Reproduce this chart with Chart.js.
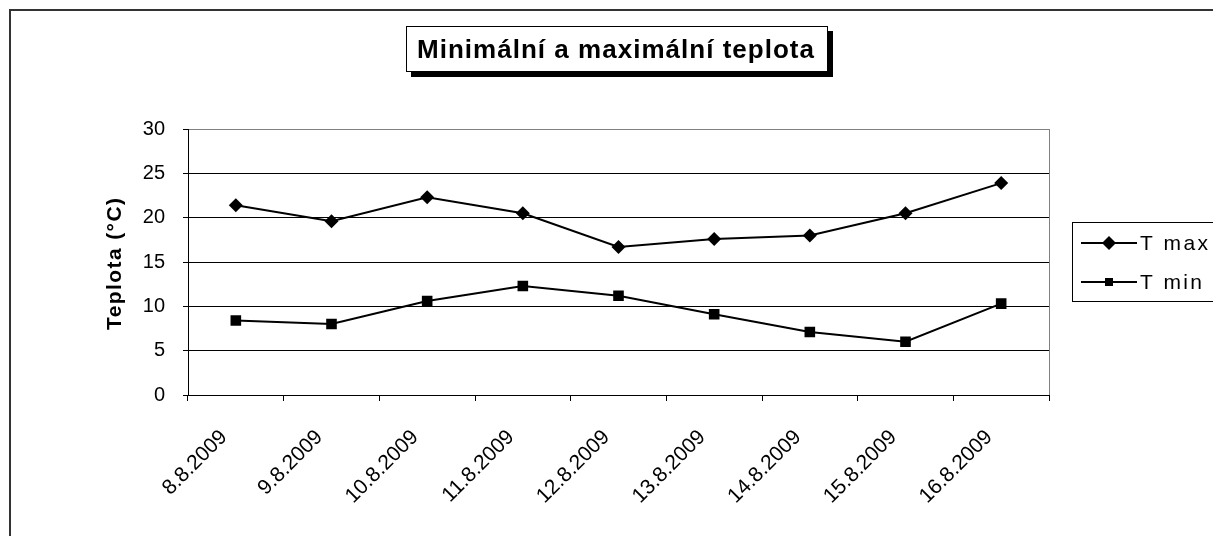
<!DOCTYPE html>
<html>
<head>
<meta charset="utf-8">
<script src="https://cdn.jsdelivr.net/npm/chart.js@4.4.1/dist/chart.umd.min.js"></script>
<style>
  body { margin: 0; background: #fff; }
  canvas { display: block; }
</style>
</head>
<body>
<canvas id="my-chart" width="1213" height="536"></canvas>
<script>
'use strict';

// ************** Data ***************

let categories = ['8.8.2009', '9.8.2009', '10.8.2009', '11.8.2009', '12.8.2009',
  '13.8.2009', '14.8.2009', '15.8.2009', '16.8.2009'];
let tMax = [21.4, 19.6, 22.3, 20.5, 16.7, 17.6, 18.0, 20.5, 23.9];
let tMin = [8.4, 8.0, 10.6, 12.3, 11.2, 9.1, 7.1, 6.0, 10.3];
let yTicks = [0, 5, 10, 15, 20, 25, 30];

let chartTitle = 'Minimální a maximální teplota';
let yTitle = 'Teplota (°C)';
let seriesNames = ['T max', 'T min'];

const FONT = '"Liberation Sans", Arial, sans-serif';

// ************** Helpers ***************

function spacedText(ctx, text, x, y, width) {
  // Excel stretches its text a bit, spread letters to a target width
  ctx.letterSpacing = '0px';
  let w0 = ctx.measureText(text).width;
  let sp = Math.max(0, (width - w0) / (text.length - 1));
  ctx.letterSpacing = sp + 'px';
  ctx.textAlign = 'left';
  ctx.fillText(text, x, y);
  ctx.letterSpacing = '0px';
}

let decorPlugin = {
  id: 'decor',
  afterDraw(chart) {
    let ctx = chart.ctx;
    let area = chart.chartArea;
    ctx.save();

    // outer chart border
    ctx.strokeStyle = '#333';
    ctx.lineWidth = 2;
    ctx.strokeRect(10, 10, 1300, 700);

    // plot area right border
    ctx.strokeStyle = '#808080';
    ctx.lineWidth = 1;
    ctx.beginPath();
    ctx.moveTo(Math.round(area.right) + 0.5, area.top);
    ctx.lineTo(Math.round(area.right) + 0.5, area.bottom);
    ctx.stroke();

    // title box with shadow
    ctx.fillStyle = '#000';
    ctx.fillRect(411, 31, 422, 46);
    ctx.fillStyle = '#fff';
    ctx.fillRect(406, 26, 422, 46);
    ctx.strokeStyle = '#000';
    ctx.strokeRect(406.5, 26.5, 421, 45);
    ctx.fillStyle = '#000';
    ctx.font = 'bold 26px ' + FONT;
    ctx.textBaseline = 'alphabetic';
    spacedText(ctx, chartTitle, 417, 58, 397);

    // y axis title
    ctx.save();
    ctx.translate(121, 264);
    ctx.rotate(-Math.PI / 2);
    ctx.font = 'bold 21px ' + FONT;
    ctx.textBaseline = 'alphabetic';
    spacedText(ctx, yTitle, -66, 0, 132);
    ctx.restore();

    // legend
    ctx.fillStyle = '#fff';
    ctx.fillRect(1072, 222, 200, 80);
    ctx.strokeStyle = '#000';
    ctx.lineWidth = 1;
    ctx.strokeRect(1072.5, 222.5, 200, 79);
    let rows = [243, 282];
    for (let i = 0; i < 2; i++) {
      let y = rows[i];
      ctx.strokeStyle = '#000';
      ctx.lineWidth = 2;
      ctx.beginPath();
      ctx.moveTo(1081, y);
      ctx.lineTo(1137, y);
      ctx.stroke();
      ctx.fillStyle = '#000';
      if (i === 0) {
        ctx.beginPath();
        ctx.moveTo(1109, y - 7);
        ctx.lineTo(1116, y);
        ctx.lineTo(1109, y + 7);
        ctx.lineTo(1102, y);
        ctx.closePath();
        ctx.fill();
      } else {
        ctx.fillRect(1105, y - 4, 8, 8);
      }
      ctx.font = '21px ' + FONT;
      ctx.textBaseline = 'middle';
      spacedText(ctx, seriesNames[i], 1140, y + 1, i === 0 ? 68 : 62);
    }
    ctx.restore();
  }
};

// ************** Chart ***************

let ctx = document.getElementById('my-chart').getContext('2d');

new Chart(ctx, {
  type: 'line',
  data: {
    labels: categories,
    datasets: [{
      label: seriesNames[0],
      data: tMax,
      borderColor: '#000',
      backgroundColor: '#000',
      borderWidth: 2,
      pointStyle: 'rectRot',
      pointRadius: 7,
      pointBorderWidth: 0,
      tension: 0
    },
    {
      label: seriesNames[1],
      data: tMin,
      borderColor: '#000',
      backgroundColor: '#000',
      borderWidth: 2,
      pointStyle: 'rect',
      pointRadius: 7.5,
      pointBorderWidth: 0,
      tension: 0
    }]
  },
  options: {
    responsive: false,
    animation: false,
    layout: { padding: { left: 0, top: 129, right: 164, bottom: 0 } },
    plugins: {
      legend: { display: false },
      tooltip: { enabled: false },
      title: { display: false }
    },
    scales: {
      x: {
        offset: true,
        grid: { offset: true, drawOnChartArea: false, tickLength: 6, color: '#000', tickColor: '#000' },
        border: { color: '#000', width: 1 },
        ticks: {
          minRotation: 45,
          maxRotation: 45,
          color: '#000',
          font: { family: FONT, size: 21 },
          padding: 24,
          labelOffset: -12
        },
        afterFit(scale) { scale.height = 141; }
      },
      y: {
        min: yTicks[0],
        max: yTicks[yTicks.length - 1],
        afterBuildTicks(scale) { scale.ticks = yTicks.map(v => ({ value: v })); },
        grid: {
          color: (c) => (c.tick && c.tick.value === 30 ? '#808080' : '#000'),
          tickColor: '#000',
          tickLength: 5
        },
        border: { color: '#000', width: 1 },
        ticks: { color: '#000', font: { family: FONT, size: 20 }, padding: 18 },
        afterFit(scale) { scale.width = 188; }
      }
    }
  },
  plugins: [decorPlugin]
});
</script>
</body>
</html>
